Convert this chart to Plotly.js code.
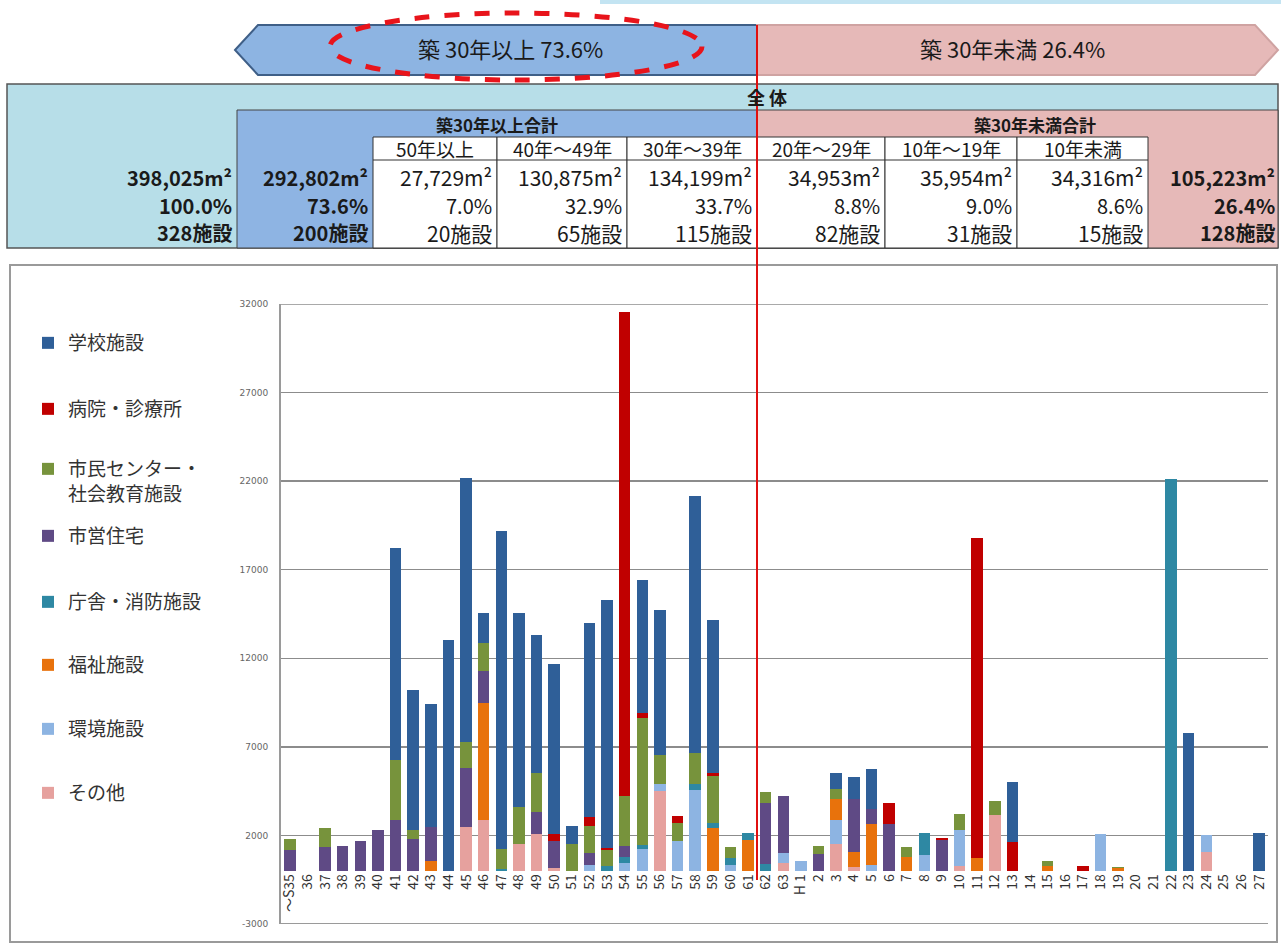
<!DOCTYPE html>
<html><head><meta charset="utf-8">
<script src="https://cdn.plot.ly/plotly-3.0.1.min.js"></script>
<style>html,body{margin:0;padding:0;background:#fff}#chart{width:1281px;height:945px}</style>
</head><body><div id="chart"></div>
<script>
// ---- data ----
const categories = ['〜S35','36','37','38','39','40','41','42','43','44','45','46','47','48','49','50','51','52','53','54','55','56','57','58','59','60','61','62','63',
  'H 1','2','3','4','5','6','7','8','9','10','11','12','13','14','15','16','17','18','19','20','21','22','23','24','25','26','27'];
const seriesNames = ['学校施設','病院・診療所','市民センター・<br>社会教育施設','市営住宅','庁舎・消防施設','福祉施設','環境施設','その他'];
const school = [0,0,0,0,0,0,11960,7910,6930,13020, 14940,1670,17960,10950,7810,9620,1025,10940,14010,0, 7500,8160,0,14490,8630,0,0,0,0,0, 0,900,1230,2260,0,0,0,0,0,0, 0,3370,0,0,0,0,0,0,0,0, 0,7790,0,0,0,2150];
const hospital = [0,0,0,0,0,0,0,0,0,0, 0,0,0,0,0,410,0,510,100,27330, 310,0,390,0,200,0,0,0,0,0, 0,0,0,0,1190,0,0,155,0,18060, 0,1650,0,0,0,300,0,0,0,0, 0,0,0,0,0,0];
const civic = [600,0,1050,0,0,0,3390,510,0,0, 1430,1610,1110,2055,2220,0,1525,1540,875,2820, 7130,1645,1030,1745,2610,660,0,650,0,0, 430,570,0,0,0,570,0,0,870,0, 810,0,0,230,0,0,0,90,0,0, 0,0,0,0,0,0];
const housing = [1200,0,1350,1380,1660,2280,2850,1810,1920,0, 3350,1780,0,0,1230,1520,0,660,0,580, 0,0,0,0,0,0,0,3450,3240,0, 960,0,3015,890,2660,0,0,1715,0,0, 0,0,0,0,0,0,0,0,0,0, 0,0,0,0,0,0];
const office = [0,0,0,0,0,0,0,0,0,0, 0,0,100,0,0,0,0,0,300,365, 220,0,0,370,310,350,370,380,0,0, 0,0,0,0,0,0,1250,0,0,0, 0,0,0,0,0,0,0,0,0,0, 22130,0,0,0,0,0];
const welfare = [0,0,0,0,0,0,0,0,550,0, 0,6650,0,0,0,0,0,0,0,0, 0,0,0,0,2410,0,1750,0,0,0, 0,1220,855,2280,0,770,0,0,0,730, 0,0,0,300,0,0,0,150,0,0, 0,0,0,0,0,0];
const environment = [0,0,0,0,0,0,0,0,0,0, 0,0,0,0,0,0,0,350,0,435, 1260,415,1690,4545,0,350,0,0,570,545, 0,1320,0,340,0,0,900,0,2020,0, 0,0,0,0,0,0,2090,0,0,0, 0,0,950,0,0,0];
const other = [0,0,0,0,0,0,0,0,0,0, 2470,2850,0,1525,2080,150,0,0,0,0, 0,4500,0,0,0,0,0,0,430,0, 0,1530,200,0,0,0,0,0,300,0, 3130,0,0,0,0,0,0,0,0,0, 0,0,1050,0,0,0];
const yTickVals = [-3000,2000,7000,12000,17000,22000,27000,32000];
const yTickText = ['-3000','2000','7000','12000','17000','22000','27000','32000'];

const bannerLabels = ['築 30年以上 73.6%','築 30年未満 26.4%'];
const tableTitle = '全 体';
const groupTitles = ['築30年以上合計','築30年未満合計'];
const bandLabels = ['50年以上','40年～49年','30年～39年','20年～29年','10年～19年','10年未満'];
const bandArea = ['27,729m²','130,875m²','134,199m²','34,953m²','35,954m²','34,316m²'];
const bandShare = ['7.0%','32.9%','33.7%','8.8%','9.0%','8.6%'];
const bandCount = ['20施設','65施設','115施設','82施設','31施設','15施設'];
const totalAll = ['398,025m²','100.0%','328施設'];
const totalOver30 = ['292,802m²','73.6%','200施設'];
const totalUnder30 = ['105,223m²','26.4%','128施設'];

// ---- helpers ----
const W = 1281, H = 945;
const px = x => x / W;
const py = y => 1 - y / H;
const FONT = '"Noto Sans CJK JP", "Noto Sans", sans-serif';

// stack order bottom -> top ; legend slot 1 (top) .. 8 (bottom)
const stackSeries = [
  {name: seriesNames[7], y: other, color: '#E6A19E', slot: 8},
  {name: seriesNames[6], y: environment, color: '#8DB4E2', slot: 7},
  {name: seriesNames[5], y: welfare, color: '#E8720C', slot: 6},
  {name: seriesNames[4], y: office, color: '#2E88A3', slot: 5},
  {name: seriesNames[3], y: housing, color: '#5F4A85', slot: 4},
  {name: seriesNames[2], y: civic, color: '#77933C', slot: 3},
  {name: seriesNames[1], y: hospital, color: '#C00000', slot: 2},
  {name: seriesNames[0], y: school, color: '#2F5F98', slot: 1}
];
const legendName = k => k === 1 ? 'legend' : 'legend' + k;
const traces = stackSeries.map(s => ({
  type: 'bar', x: categories, y: s.y, name: s.name, legend: legendName(s.slot),
  marker: {color: s.color, line: {width: 0}}, hoverinfo: 'skip'
}));

// ---- shapes ----
const shapes = [];
const rect = (x0, y0, x1, y1, fill, lc, lw) => shapes.push({type: 'rect', xref: 'paper', yref: 'paper',
  x0: px(x0), x1: px(x1), y0: py(y1), y1: py(y0), fillcolor: fill, line: {color: lc, width: lw}, layer: 'below'});
const line = (x0, y0, x1, y1, lc, lw, layer) => shapes.push({type: 'line', xref: 'paper', yref: 'paper',
  x0: px(x0), x1: px(x1), y0: py(y0), y1: py(y1), line: {color: lc, width: lw}, layer: layer || 'below'});
const path = (pts, fill, lc, lw) => shapes.push({type: 'path', xref: 'paper', yref: 'paper',
  path: 'M' + pts.map(p => px(p[0]) + ',' + py(p[1])).join(' L') + ' Z', fillcolor: fill, line: {color: lc, width: lw}, layer: 'below'});

// decorative top band
rect(600, 0, 1281, 4, '#C3E4F2', 'rgba(0,0,0,0)', 0);

// banner
path([[235,50],[258,25],[757,25],[757,75],[258,75]], '#8DB4E2', '#3F5F87', 2);
path([[757,25],[1255,25],[1278,50],[1255,75],[757,75]], '#E6B9B8', '#CFA3A2', 2);

// table
rect(7, 84, 1278, 248, '#B7DEE8', '#555555', 1.5);
rect(237, 110, 757, 248, '#8EB4E3', '#444444', 1);
rect(757, 110, 1278, 248, '#E6B9B8', '#444444', 1);
const bounds = [373, 497, 627, 757, 885, 1017, 1148];
for (let i = 0; i < 6; i++) rect(bounds[i], 137, bounds[i + 1], 248, '#FFFFFF', '#333333', 1);
line(373, 160, 1148, 160, '#333333', 1);

// chart frame
rect(10, 265, 1277, 942, 'rgba(0,0,0,0)', '#9A9A9A', 2);

// plot-area top / bottom borders (at the axis range ends)
shapes.push({type: 'line', xref: 'paper', yref: 'y', x0: px(281), x1: px(1268), y0: 32000, y1: 32000,
  line: {color: '#8C8C8C', width: 1.5}, layer: 'below'});
shapes.push({type: 'line', xref: 'paper', yref: 'y', x0: px(281), x1: px(1268), y0: -3000, y1: -3000,
  line: {color: '#9A9A9A', width: 2}, layer: 'below'});

// ellipse + red divider
shapes.push({type: 'circle', xref: 'paper', yref: 'paper', x0: px(330), x1: px(702), y0: py(80), y1: py(13),
  line: {color: '#E8141B', width: 5, dash: 'dash'}, layer: 'above'});
line(757, 25, 757, 880, '#E01010', 2, 'above');

// ---- annotations ----
const annotations = [];
const ann = (text, x, y, size, opts) => annotations.push(Object.assign({text: text, xref: 'paper', yref: 'paper',
  x: px(x), y: py(y), showarrow: false, xanchor: 'center', yanchor: 'middle',
  font: {family: FONT, size: size, color: '#1a1a1a'}}, opts || {}));

ann(bannerLabels[0], 510, 48, 22);
ann(bannerLabels[1], 1012, 48, 22);
ann('<b>' + tableTitle + '</b>', 767, 97, 18);
ann('<b>' + groupTitles[0] + '</b>', 497, 124, 17);
ann('<b>' + groupTitles[1] + '</b>', 1035, 124, 17);
const rowsY = [177, 205, 233];
for (let i = 0; i < 6; i++) {
  const cx = (bounds[i] + bounds[i + 1]) / 2;
  ann(bandLabels[i], cx, 149, 19);
  ann(bandArea[i], bounds[i + 1] - 3, rowsY[0], 21, {xanchor: 'right'});
  ann(bandShare[i], bounds[i + 1] - 3, rowsY[1], 20, {xanchor: 'right'});
  ann(bandCount[i], bounds[i + 1] - 3, rowsY[2], 21, {xanchor: 'right'});
}
for (let r = 0; r < 3; r++) {
  ann('<b>' + totalAll[r] + '</b>', 234, rowsY[r], 20, {xanchor: 'right'});
  ann('<b>' + totalOver30[r] + '</b>', 370, rowsY[r], 20, {xanchor: 'right'});
  ann('<b>' + totalUnder30[r] + '</b>', 1277, rowsY[r], 20, {xanchor: 'right'});
}

const layout = {
  width: W, height: H,
  margin: {l: 0, r: 0, t: 0, b: 0},
  paper_bgcolor: '#FFFFFF', plot_bgcolor: 'rgba(0,0,0,0)',
  barmode: 'stack', bargap: 0.35,
  font: {family: FONT, color: '#333'},
  xaxis: {
    domain: [px(281), px(1268)], anchor: 'free', position: py(870.4),
    type: 'category', showgrid: false, showline: false, zeroline: false, ticks: '',
    tickangle: -90, tickfont: {family: FONT, size: 14, color: '#333'}, fixedrange: true
  },
  yaxis: {
    domain: [py(924), py(304)], range: [-3000, 32000],
    tickvals: yTickVals, ticktext: yTickText, ticks: '', ticklabelstandoff: 9,
    showgrid: true, gridcolor: '#8C8C8C', gridwidth: 1.5,
    showline: true, linecolor: '#9A9A9A', linewidth: 2, zeroline: false,
    tickfont: {family: '"DejaVu Sans", sans-serif', size: 9, color: '#666'}, fixedrange: true
  },
  showlegend: true,
  shapes: shapes, annotations: annotations
};
// one legend box per entry, placed at the reference item positions (first-line centre)
const legendCentres = [342, 408, 468, 535, 601, 664, 728, 792];
legendCentres.forEach((c, i) => {
  layout[legendName(i + 1)] = {
    x: px(28), y: py(c - 18), xanchor: 'left', yanchor: 'top', valign: 'top',
    bgcolor: 'rgba(0,0,0,0)', font: {family: FONT, size: 19, color: '#333'}, itemwidth: 30
  };
});

Plotly.newPlot('chart', traces, layout, {displayModeBar: false, staticPlot: true});
</script></body></html>
